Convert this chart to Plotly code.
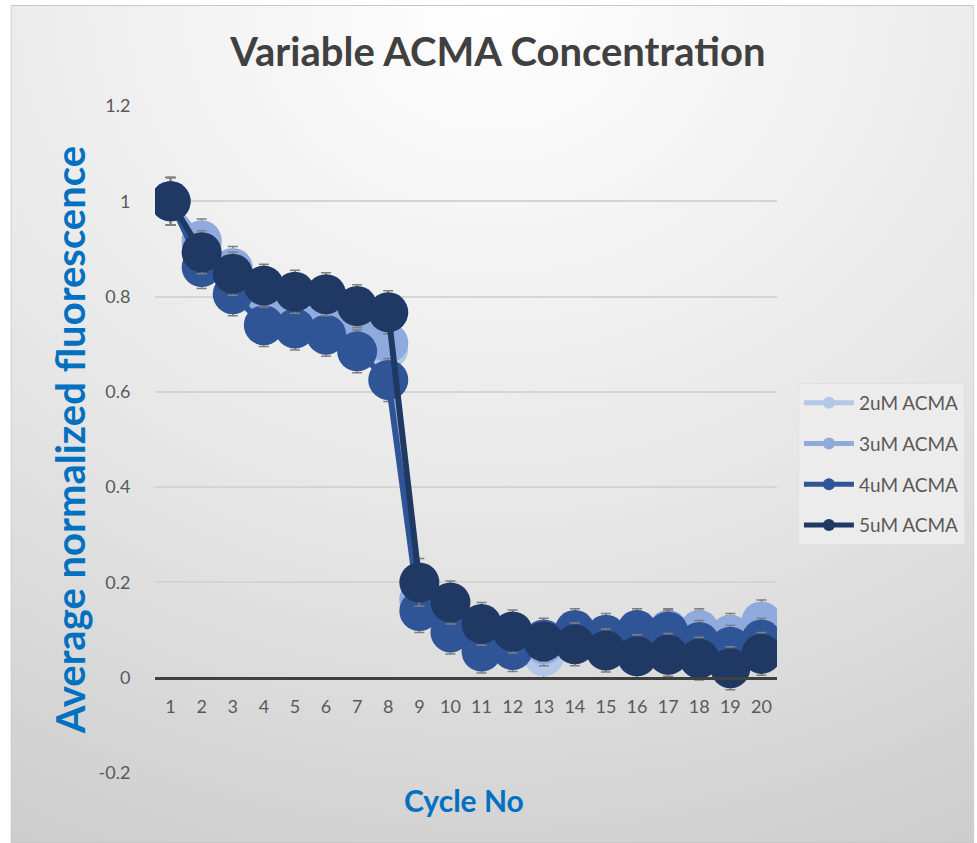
import base64
import plotly.graph_objects as go

cycles = list(range(1, 21))
cycle_labels = [str(c) for c in cycles]

series_names = ["2uM ACMA", "3uM ACMA", "4uM ACMA", "5uM ACMA"]

vals_2uM = [1.0, 0.910, 0.850, 0.790, 0.780, 0.770, 0.730, 0.690, 0.160, 0.115,
            0.075, 0.070, 0.045, 0.080, 0.075, 0.090, 0.095, 0.095, 0.085, 0.110]
vals_3uM = [1.0, 0.918, 0.860, 0.800, 0.790, 0.780, 0.740, 0.703, 0.165, 0.120,
            0.080, 0.075, 0.070, 0.085, 0.080, 0.095, 0.100, 0.100, 0.090, 0.118]
vals_4uM = [1.0, 0.862, 0.805, 0.740, 0.733, 0.720, 0.685, 0.625, 0.140, 0.095,
            0.055, 0.058, 0.080, 0.100, 0.090, 0.100, 0.097, 0.075, 0.065, 0.080]
vals_5uM = [1.0, 0.893, 0.848, 0.823, 0.810, 0.805, 0.780, 0.767, 0.200, 0.158,
            0.113, 0.097, 0.076, 0.070, 0.057, 0.045, 0.048, 0.040, 0.020, 0.050]

err_2uM = [0.05, 0.045, 0.045, 0.045, 0.045, 0.045, 0.045, 0.045, 0.045, 0.045,
           0.045, 0.045, 0.045, 0.045, 0.045, 0.045, 0.045, 0.045, 0.045, 0.045]
err_3uM = [0.05, 0.045, 0.045, 0.045, 0.045, 0.045, 0.045, 0.045, 0.045, 0.045,
           0.045, 0.045, 0.045, 0.045, 0.045, 0.045, 0.045, 0.045, 0.045, 0.045]
err_4uM = [0.05, 0.045, 0.045, 0.045, 0.045, 0.045, 0.045, 0.045, 0.045, 0.045,
           0.045, 0.045, 0.045, 0.045, 0.045, 0.045, 0.045, 0.045, 0.045, 0.045]
err_5uM = [0.05, 0.045, 0.045, 0.045, 0.045, 0.045, 0.045, 0.045, 0.050, 0.045,
           0.045, 0.045, 0.040, 0.045, 0.045, 0.045, 0.045, 0.045, 0.045, 0.045]

y_tickvals = [-0.2, 0, 0.2, 0.4, 0.6, 0.8, 1.0, 1.2]
y_ticktext = ["-0.2", "0", "0.2", "0.4", "0.6", "0.8", "1", "1.2"]

colors = ["#b4c7e7", "#8faadc", "#2f5597", "#203864"]
all_vals = [vals_2uM, vals_3uM, vals_4uM, vals_5uM]
all_errs = [err_2uM, err_3uM, err_4uM, err_5uM]

FONT = "Lato"

fig = go.Figure()
for name, vals, errs, col in zip(series_names, all_vals, all_errs, colors):
    fig.add_trace(go.Scatter(
        x=cycles, y=vals, name=name, mode="lines+markers",
        legendgroup=name,
        line=dict(color=col, width=6),
        marker=dict(color=col, size=40, line=dict(width=0)),
        error_y=dict(type="data", array=errs, visible=True,
                     color="#7f7f7f", thickness=1.5, width=5),
    ))

# background gradient (styling only)
svg = ("<svg xmlns='http://www.w3.org/2000/svg' width='967' height='838' "
       "viewBox='0 0 967 838' preserveAspectRatio='none'><defs>"
       "<radialGradient id='g' cx='50%' cy='0%' r='115%'>"
       "<stop offset='0' stop-color='#ffffff'/>"
       "<stop offset='0.55' stop-color='#e6e6e6'/>"
       "<stop offset='1' stop-color='#cbcbcb'/></radialGradient></defs>"
       "<rect x='0.5' y='0.5' width='966' height='837' fill='url(#g)' stroke='#c8c8c8'/></svg>")
src = "data:image/svg+xml;base64," + base64.b64encode(svg.encode()).decode()

L, R, T, B = 155, 198, 106, 70
W, H = 977, 843
pw, ph = W - L - R, H - T - B

def px(xp):
    return (xp - L) / pw

def py(yp):
    return (H - B - yp) / ph

fig.update_layout(
    width=W, height=H, autosize=False,
    margin=dict(l=L, r=R, t=T, b=B),
    paper_bgcolor="white",
    plot_bgcolor="rgba(0,0,0,0)",
    font=dict(family=FONT, color="#595959", size=18),
    images=[dict(source=src, xref="paper", yref="paper",
                 x=px(10), y=py(5), sizex=967 / pw, sizey=838 / ph,
                 xanchor="left", yanchor="top", sizing="stretch", layer="below")],
    title=dict(text="<b>Variable ACMA Concentration</b>",
               font=dict(family=FONT, size=40, color="#404040"),
               xref="paper", x=px(499), xanchor="center",
               yref="container", y=1 - 52 / H, yanchor="middle"),
    xaxis=dict(range=[0.5, 20.5], tickmode="array", tickvals=cycles, ticktext=cycle_labels,
               anchor="free", position=0.2 / 1.4,
               showline=True, linecolor="#404040", linewidth=3,
               showgrid=False, zeroline=False,
               ticks="outside", ticklen=12, tickcolor="rgba(0,0,0,0)",
               tickfont=dict(size=18, color="#595959")),
    yaxis=dict(range=[-0.2, 1.2], tickmode="array", tickvals=y_tickvals, ticktext=y_ticktext,
               showgrid=True, gridcolor="#d4d4d4", gridwidth=1.5,
               zeroline=False, showline=False,
               ticks="outside", ticklen=20, tickcolor="rgba(0,0,0,0)",
               tickfont=dict(size=18, color="#595959")),
    legend=dict(x=px(800), y=py(383), xanchor="left", yanchor="top",
                bgcolor="#ececec", bordercolor="#e0e0e0", borderwidth=1,
                font=dict(family=FONT, size=19, color="#595959"),
                itemsizing="constant", itemwidth=50, tracegroupgap=13),
    annotations=[
        dict(text="<b>Average normalized fluorescence</b>", textangle=-90,
             xref="paper", yref="paper", x=px(70), y=py(440),
             xanchor="center", yanchor="middle", showarrow=False,
             font=dict(family=FONT, size=40, color="#0070c0")),
        dict(text="<b>Cycle No</b>",
             xref="paper", yref="paper", x=px(465), y=py(800),
             xanchor="center", yanchor="middle", showarrow=False,
             font=dict(family=FONT, size=30, color="#0070c0")),
    ],
)

fig.write_html("out.html", config={"displayModeBar": False},
               post_script="document.body.style.margin='0';document.body.style.padding='0';")
